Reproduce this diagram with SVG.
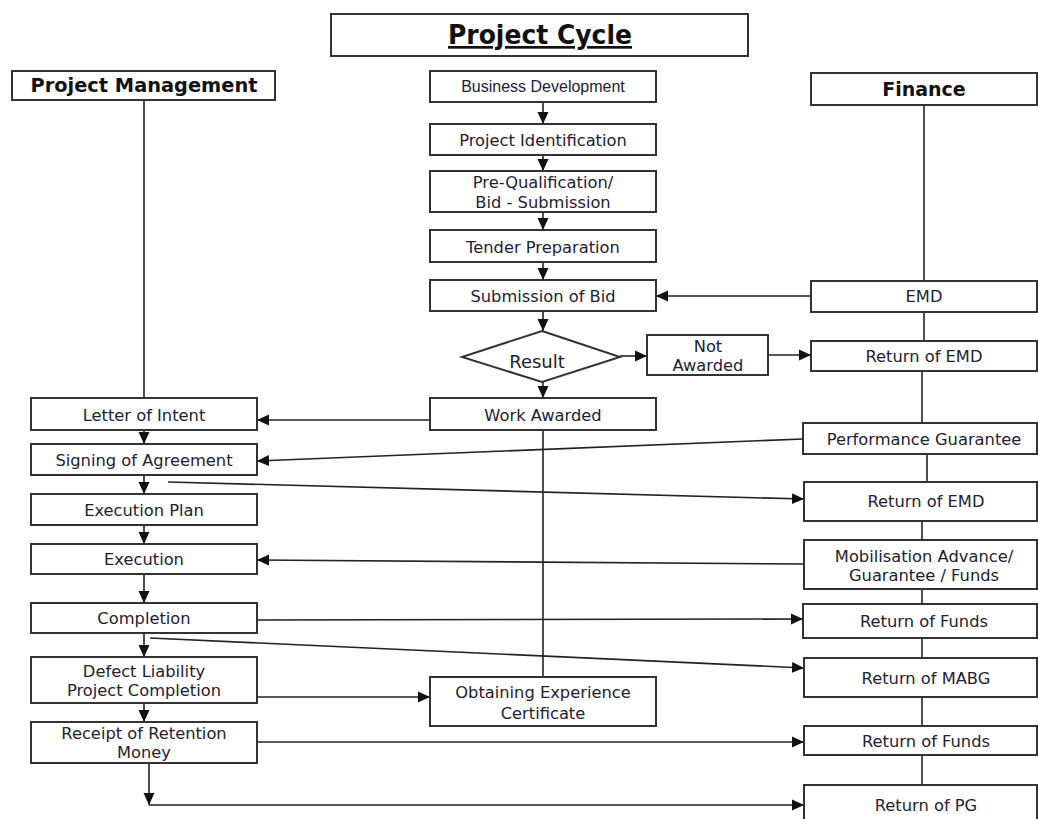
<svg xmlns="http://www.w3.org/2000/svg" width="1038" height="819" viewBox="0 0 1038 819">
<defs>
<style>
.box{fill:#fff;stroke:#333;stroke-width:2}
.t{font-family:"DejaVu Sans",Verdana,sans-serif;font-size:16.3px;fill:#1e2233;text-anchor:middle}
.a{font-family:"Liberation Sans",Arial,sans-serif;font-size:16px;fill:#1e2233;text-anchor:middle}
.r{font-family:"DejaVu Sans",Verdana,sans-serif;font-size:18px;fill:#1e2233;text-anchor:middle}
.h{font-family:"DejaVu Sans",Verdana,sans-serif;font-size:19px;font-weight:bold;fill:#111;text-anchor:middle}
.ttl{font-family:"DejaVu Sans",Verdana,sans-serif;font-size:27px;font-weight:bold;fill:#111;text-anchor:middle;text-decoration:underline}
.c{fill:none;stroke:#222;stroke-width:1.6}
</style>
<marker id="ah" markerWidth="13" markerHeight="13" refX="12" refY="6.5" orient="auto" markerUnits="userSpaceOnUse"><path d="M0,1 L12,6.5 L0,12 z" fill="#111"/></marker>
</defs>
<rect width="1038" height="819" fill="#fff"/>

<g id="connectors">
<line class="c" x1="144" y1="100" x2="144" y2="398"/>
<line class="c" x1="924" y1="105" x2="924" y2="281"/>
<line class="c" x1="924" y1="312" x2="924" y2="341"/>
<line class="c" x1="922" y1="365" x2="922" y2="423"/>
<line class="c" x1="927" y1="454" x2="927" y2="482"/>
<line class="c" x1="922" y1="521" x2="922" y2="540"/>
<line class="c" x1="922" y1="589" x2="922" y2="609"/>
<line class="c" x1="922" y1="638" x2="922" y2="658"/>
<line class="c" x1="922" y1="697" x2="922" y2="726"/>
<line class="c" x1="922" y1="755" x2="922" y2="785"/>
<line class="c" x1="543" y1="102" x2="543" y2="124" marker-end="url(#ah)"/>
<line class="c" x1="543" y1="155" x2="543" y2="171" marker-end="url(#ah)"/>
<line class="c" x1="543" y1="212" x2="543" y2="230" marker-end="url(#ah)"/>
<line class="c" x1="543" y1="262" x2="543" y2="280" marker-end="url(#ah)"/>
<line class="c" x1="543" y1="311" x2="543" y2="331" marker-end="url(#ah)"/>
<line class="c" x1="543" y1="382" x2="543" y2="398" marker-end="url(#ah)"/>
<line class="c" x1="620" y1="356" x2="647" y2="356" marker-end="url(#ah)"/>
<line class="c" x1="768" y1="355" x2="811" y2="355" marker-end="url(#ah)"/>
<line class="c" x1="811" y1="296" x2="656" y2="296" marker-end="url(#ah)"/>
<line class="c" x1="430" y1="420" x2="257" y2="420" marker-end="url(#ah)"/>
<line class="c" x1="543" y1="430" x2="543" y2="677"/>
<line class="c" x1="803" y1="439" x2="257" y2="461" marker-end="url(#ah)"/>
<line class="c" x1="168" y1="482" x2="804" y2="499" marker-end="url(#ah)"/>
<line class="c" x1="804" y1="564" x2="257" y2="560" marker-end="url(#ah)"/>
<line class="c" x1="257" y1="620" x2="803" y2="619" marker-end="url(#ah)"/>
<line class="c" x1="150" y1="638" x2="804" y2="668" marker-end="url(#ah)"/>
<line class="c" x1="257" y1="697" x2="430" y2="697" marker-end="url(#ah)"/>
<line class="c" x1="257" y1="742" x2="804" y2="742" marker-end="url(#ah)"/>
<line class="c" x1="144" y1="430" x2="144" y2="444" marker-end="url(#ah)"/>
<line class="c" x1="144" y1="475" x2="144" y2="494" marker-end="url(#ah)"/>
<line class="c" x1="144" y1="525" x2="144" y2="544" marker-end="url(#ah)"/>
<line class="c" x1="144" y1="574" x2="144" y2="603" marker-end="url(#ah)"/>
<line class="c" x1="144" y1="633" x2="144" y2="657" marker-end="url(#ah)"/>
<line class="c" x1="144" y1="703" x2="144" y2="722" marker-end="url(#ah)"/>
<line class="c" x1="149" y1="763" x2="149" y2="805" marker-end="url(#ah)"/>
<line class="c" x1="149" y1="805" x2="804" y2="805" marker-end="url(#ah)"/>
</g>

<g id="title"><rect class="box" x="331" y="14" width="417" height="42"/><text class="ttl" x="540" y="44" textLength="184" lengthAdjust="spacingAndGlyphs">Project Cycle</text></g>
<g id="pm"><rect class="box" x="12" y="71" width="263" height="29"/><text class="h" x="144" y="92" textLength="227" lengthAdjust="spacingAndGlyphs">Project Management</text></g>
<g id="finance"><rect class="box" x="811" y="73" width="226" height="32"/><text class="h" x="924" y="96">Finance</text></g>

<g id="bizdev"><rect class="box" x="430" y="71" width="226" height="31"/><text class="a" x="543" y="92">Business Development</text></g>
<g id="projid"><rect class="box" x="430" y="124" width="226" height="31"/><text class="t" x="543" y="146">Project Identification</text></g>
<g id="preq"><rect class="box" x="430" y="171" width="226" height="41"/><text class="t" x="543" y="188">Pre-Qualification/</text><text class="t" x="543" y="208">Bid - Submission</text></g>
<g id="tender"><rect class="box" x="430" y="230" width="226" height="32"/><text class="t" x="543" y="253">Tender Preparation</text></g>
<g id="subbid"><rect class="box" x="430" y="280" width="226" height="31"/><text class="t" x="543" y="302">Submission of Bid</text></g>
<g id="result"><polygon class="box" points="542,331 620,357 542,382 462,357"/><text class="r" x="537" y="368">Result</text></g>
<g id="notawarded"><rect class="box" x="647" y="335" width="121" height="40"/><text class="t" x="708" y="352">Not</text><text class="t" x="708" y="371">Awarded</text></g>
<g id="workawarded"><rect class="box" x="430" y="398" width="226" height="32"/><text class="t" x="543" y="421">Work Awarded</text></g>
<g id="experience"><rect class="box" x="430" y="677" width="226" height="49"/><text class="t" x="543" y="698">Obtaining Experience</text><text class="t" x="543" y="719">Certificate</text></g>

<g id="emd"><rect class="box" x="811" y="281" width="226" height="31"/><text class="t" x="924" y="302">EMD</text></g>
<g id="retemd1"><rect class="box" x="811" y="341" width="226" height="30"/><text class="t" x="924" y="362">Return of EMD</text></g>
<g id="pg"><rect class="box" x="803" y="423" width="234" height="31"/><text class="t" x="924" y="445">Performance Guarantee</text></g>
<g id="retemd2"><rect class="box" x="804" y="482" width="233" height="39"/><text class="t" x="926" y="507">Return of EMD</text></g>
<g id="mob"><rect class="box" x="804" y="540" width="233" height="49"/><text class="t" x="924" y="562">Mobilisation Advance/</text><text class="t" x="924" y="581">Guarantee / Funds</text></g>
<g id="retfunds1"><rect class="box" x="803" y="604" width="234" height="34"/><text class="t" x="924" y="627">Return of Funds</text></g>
<g id="retmabg"><rect class="box" x="804" y="658" width="233" height="39"/><text class="t" x="926" y="684">Return of MABG</text></g>
<g id="retfunds2"><rect class="box" x="804" y="726" width="233" height="29"/><text class="t" x="926" y="747">Return of Funds</text></g>
<g id="retpg"><rect class="box" x="804" y="785" width="233" height="40"/><text class="t" x="926" y="811">Return of PG</text></g>

<g id="loi"><rect class="box" x="31" y="398" width="226" height="32"/><text class="t" x="144" y="421">Letter of Intent</text></g>
<g id="sign"><rect class="box" x="31" y="444" width="226" height="31"/><text class="t" x="144" y="466">Signing of Agreement</text></g>
<g id="execplan"><rect class="box" x="31" y="494" width="226" height="31"/><text class="t" x="144" y="516">Execution Plan</text></g>
<g id="exec"><rect class="box" x="31" y="544" width="226" height="30"/><text class="t" x="144" y="565">Execution</text></g>
<g id="completion"><rect class="box" x="31" y="603" width="226" height="30"/><text class="t" x="144" y="624">Completion</text></g>
<g id="defect"><rect class="box" x="31" y="657" width="226" height="46"/><text class="t" x="144" y="677">Defect Liability</text><text class="t" x="144" y="696">Project Completion</text></g>
<g id="retention"><rect class="box" x="31" y="722" width="226" height="41"/><text class="t" x="144" y="739">Receipt of Retention</text><text class="t" x="144" y="758">Money</text></g>
</svg>
